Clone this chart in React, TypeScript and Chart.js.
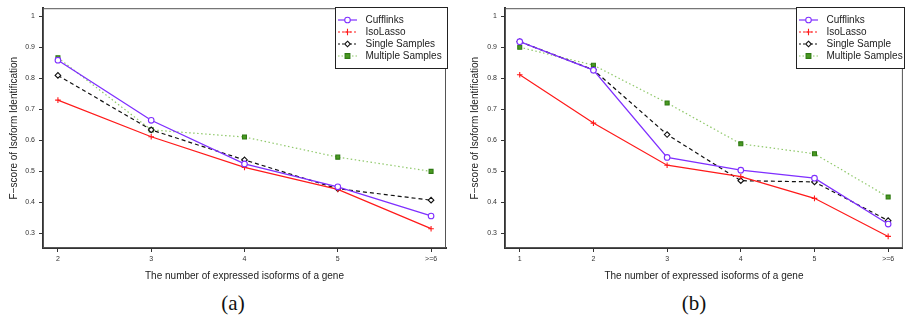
import React, { useEffect, useRef } from "react";
import { Chart, registerables } from "chart.js";
Chart.register(...registerables);

// ---------- data ----------
const labelsA = ["2", "3", "4", "5", ">=6"];
const cufflinksA = [0.859, 0.665, 0.524, 0.45, 0.356];
const isoLassoA = [0.73, 0.612, 0.513, 0.442, 0.315];
const singleA = [0.81, 0.634, 0.537, 0.444, 0.407];
const multipleA = [0.867, 0.634, 0.611, 0.546, 0.5];

const labelsB = ["1", "2", "3", "4", "5", ">=6"];
const cufflinksB = [0.919, 0.827, 0.545, 0.504, 0.478, 0.33];
const isoLassoB = [0.812, 0.656, 0.52, 0.483, 0.413, 0.29];
const singleB = [0.919, 0.828, 0.619, 0.47, 0.466, 0.341];
const multipleB = [0.901, 0.843, 0.721, 0.589, 0.557, 0.417];

const yTicks = [0.3, 0.4, 0.5, 0.6, 0.7, 0.8, 0.9, 1];
const legendA = ["Cufflinks", "IsoLasso", "Single Samples", "Multiple Samples"];
const legendB = ["Cufflinks", "IsoLasso", "Single Sample", "Multiple Samples"];
const xTitle = "The number of expressed isoforms of a gene";
const yTitle = "F\u2212score of Isoform Identification";

// ---------- styles ----------
const FONT = "'Liberation Sans', Arial, Helvetica, sans-serif";
const styles = [
  { color: "#7f2fff", dash: [] as number[], legendDash: [] as number[], point: "circle", pointBg: "#ffffff", pointBorder: "#7f2fff", width: 1.3 },
  { color: "#ff1a1a", dash: [], legendDash: [2, 2], point: "cross", pointBg: "#ff1a1a", pointBorder: "#ff1a1a", width: 1.2 },
  { color: "#111111", dash: [4, 3], legendDash: [2, 2], point: "rectRot", pointBg: "#ffffff", pointBorder: "#111111", width: 1.2 },
  { color: "#8fc86a", dash: [1.5, 2.5], legendDash: [1.5, 2], point: "rect", pointBg: "#4b9a22", pointBorder: "#2f7a14", width: 1.2 },
];

function drawMarker(ctx: CanvasRenderingContext2D, kind: string, x: number, y: number, s: any) {
  ctx.save();
  ctx.setLineDash([]);
  ctx.lineWidth = 1.1;
  ctx.strokeStyle = s.pointBorder;
  ctx.fillStyle = s.pointBg;
  const r = 2.8;
  ctx.beginPath();
  if (kind === "circle") {
    ctx.arc(x, y, r, 0, Math.PI * 2);
    ctx.fill();
    ctx.stroke();
  } else if (kind === "cross") {
    ctx.moveTo(x - r - 0.5, y);
    ctx.lineTo(x + r + 0.5, y);
    ctx.moveTo(x, y - r - 0.5);
    ctx.lineTo(x, y + r + 0.5);
    ctx.stroke();
  } else if (kind === "rectRot") {
    ctx.moveTo(x, y - r);
    ctx.lineTo(x + r, y);
    ctx.lineTo(x, y + r);
    ctx.lineTo(x - r, y);
    ctx.closePath();
    ctx.fill();
    ctx.stroke();
  } else {
    ctx.rect(x - r + 0.4, y - r + 0.4, 2 * r - 0.8, 2 * r - 0.8);
    ctx.fill();
    ctx.stroke();
  }
  ctx.restore();
}

function makeChart(
  canvas: HTMLCanvasElement,
  labels: string[],
  series: number[][],
  names: string[],
  cfg: { yWidth: number; titlePad: number; padRight: number; xMin: number; xMax: number; legend: { x: number; y: number; w: number; h: number } }
) {
  const H = canvas.height;
  const plotBottom = 248;
  const framePlugin = {
    id: "frame",
    beforeDatasetsDraw(chart: any) {
      const { ctx, chartArea: a } = chart;
      ctx.save();
      ctx.strokeStyle = "#555";
      ctx.lineWidth = 1;
      ctx.strokeRect(a.left + 0.5, a.top + 0.5, a.right - a.left - 1, a.bottom - a.top - 1);
      ctx.restore();
    },
    afterDatasetsDraw(chart: any) {
      const ctx: CanvasRenderingContext2D = chart.ctx;
      const L = cfg.legend;
      ctx.save();
      ctx.fillStyle = "#ffffff";
      ctx.fillRect(L.x, L.y, L.w, L.h);
      ctx.strokeStyle = "#222";
      ctx.lineWidth = 1;
      ctx.strokeRect(L.x + 0.5, L.y + 0.5, L.w, L.h);
      ctx.font = "10px " + FONT;
      ctx.textBaseline = "middle";
      names.forEach((n, i) => {
        const s = styles[i];
        const y = L.y + 13 + i * 12;
        ctx.save();
        ctx.strokeStyle = s.color;
        ctx.lineWidth = 1.2;
        ctx.setLineDash(s.legendDash);
        ctx.beginPath();
        ctx.moveTo(L.x + 3, y);
        ctx.lineTo(L.x + 22, y);
        ctx.stroke();
        ctx.restore();
        drawMarker(ctx, s.point, L.x + 12.5, y, s);
        ctx.fillStyle = "#222";
        ctx.fillText(n, L.x + 30.5, y + 0.5);
      });
      ctx.restore();
    },
  };

  return new Chart(canvas, {
    type: "line",
    data: {
      datasets: series.map((vals, i) => ({
        label: names[i],
        data: vals.map((v, j) => ({ x: j, y: v })),
        borderColor: styles[i].color,
        borderWidth: styles[i].width,
        borderDash: styles[i].dash,
        pointStyle: styles[i].point as any,
        pointRadius: 2.8,
        pointBorderWidth: 1.1,
        pointBackgroundColor: styles[i].pointBg,
        pointBorderColor: styles[i].pointBorder,
        tension: 0,
        fill: false,
      })),
    },
    options: {
      animation: false,
      responsive: false,
      devicePixelRatio: 1,
      layout: { padding: { top: 8, right: cfg.padRight, left: 0, bottom: 0 } },
      plugins: { legend: { display: false }, tooltip: { enabled: false } },
      scales: {
        x: {
          type: "linear",
          min: cfg.xMin,
          max: cfg.xMax,
          afterBuildTicks: (s: any) => {
            s.ticks = labels.map((_, i) => ({ value: i }));
          },
          afterFit: (s: any) => {
            s.height = H - plotBottom;
          },
          grid: { display: true, drawOnChartArea: false, drawTicks: true, tickLength: 4, color: "#333", tickColor: "#333", tickWidth: 1 },
          border: { display: true, width: 2, color: "#333" },
          ticks: {
            autoSkip: false,
            maxRotation: 0,
            padding: 3,
            color: "#333",
            font: { size: 7, family: FONT },
            callback: (v: any) => labels[Math.round(Number(v))] ?? "",
          },
          title: { display: true, text: xTitle, color: "#222", font: { size: 10, family: FONT }, padding: { top: 0, bottom: 8 } },
        },
        y: {
          type: "linear",
          min: 0.2526,
          max: 1.027,
          afterBuildTicks: (s: any) => {
            s.ticks = yTicks.map((v) => ({ value: v }));
          },
          afterFit: (s: any) => {
            s.width = cfg.yWidth;
          },
          grid: { display: true, drawOnChartArea: false, drawTicks: true, tickLength: 4, color: "#333", tickColor: "#333", tickWidth: 1 },
          border: { display: true, width: 2, color: "#333" },
          ticks: {
            padding: 4,
            color: "#333",
            font: { size: 7, family: FONT },
            callback: (v: any) => (Number(v) === 1 ? "1" : Number(v).toFixed(1)),
          },
          title: { display: true, text: yTitle, color: "#222", font: { size: 10, family: FONT }, padding: { top: cfg.titlePad, bottom: 0 } },
        },
      },
    },
    plugins: [framePlugin],
  } as any);
}

export default function App() {
  const refA = useRef<HTMLCanvasElement>(null);
  const refB = useRef<HTMLCanvasElement>(null);

  useEffect(() => {
    const a = makeChart(refA.current!, labelsA, [cufflinksA, isoLassoA, singleA, multipleA], legendA, {
      yWidth: 43,
      titlePad: 8,
      padRight: 9,
      xMin: -0.16,
      xMax: 4.16,
      legend: { x: 335, y: 7, w: 112, h: 61 },
    });
    const b = makeChart(refB.current!, labelsB, [cufflinksB, isoLassoB, singleB, multipleB], legendB, {
      yWidth: 50,
      titlePad: 14,
      padRight: 0,
      xMin: -0.2,
      xMax: 5.2,
      legend: { x: 341, y: 7, w: 108, h: 61 },
    });
    return () => {
      a.destroy();
      b.destroy();
    };
  }, []);

  const cap: React.CSSProperties = {
    position: "absolute",
    top: 290,
    width: 60,
    textAlign: "center",
    fontFamily: "'Liberation Serif', 'DejaVu Serif', serif",
    fontSize: 21,
    lineHeight: "26px",
    color: "#111",
  };

  return (
    <div style={{ position: "absolute", left: 0, top: 0, width: 905, height: 323, overflow: "hidden", background: "#fff" }}>
      <canvas ref={refA} width={455} height={290} style={{ position: "absolute", left: 0, top: 0, width: 455, height: 290 }} />
      <canvas ref={refB} width={453} height={290} style={{ position: "absolute", left: 455, top: 0, width: 453, height: 290 }} />
      <div style={{ ...cap, left: 233 - 30 }}>(a)</div>
      <div style={{ ...cap, left: 694 - 30 }}>(b)</div>
    </div>
  );
}
